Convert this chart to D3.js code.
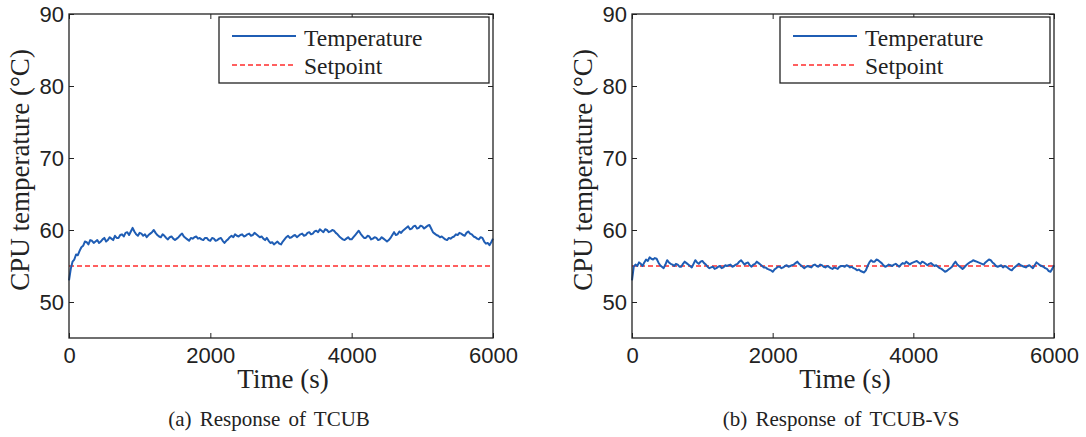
<!DOCTYPE html>
<html>
<head>
<meta charset="utf-8">
<script src="https://cdn.jsdelivr.net/npm/d3@7"></script>
<style>
  html, body { margin: 0; padding: 0; background: #fff; }
  svg { display: block; }
  .serif { font-family: "Liberation Serif", "DejaVu Serif", "Noto Serif", "Times New Roman", Times, serif; }
  .sans { font-family: "Liberation Sans", Arial, Helvetica, sans-serif; }
</style>
</head>
<body>
<svg id="chart" width="1086" height="437"></svg>
<script>
// ---- data ----
const timeStep = 25;            // sampling interval (s)
const times = d3.range(0, 6001, timeStep);

const tcubTemp = [
  53.0, 54.6, 55.6, 55.9, 56.6, 56.5, 57.1, 57.6, 57.8, 58.4, 58.3, 58.0, 58.6, 58.5, 58.2, 58.4, 58.6, 58.2, 58.4, 58.7,
  58.9, 58.4, 58.6, 59.0, 58.8, 58.6, 59.2, 58.9, 58.9, 59.3, 59.4, 59.1, 59.6, 59.7, 59.3, 59.8, 60.3, 59.8, 59.4, 59.2,
  59.6, 59.5, 59.2, 59.4, 59.0, 59.3, 59.5, 59.7, 60.0, 59.6, 59.3, 59.1, 59.0, 59.4, 59.2, 58.9, 58.7, 59.0, 59.1, 58.8,
  58.6, 58.8, 59.0, 59.3, 59.5, 59.1, 58.9, 58.7, 58.5, 58.9, 58.8, 59.0, 59.1, 58.8, 58.9, 58.7, 58.6, 58.9, 58.9, 58.6,
  58.5, 58.9, 58.8, 58.5, 58.6, 58.8, 58.9, 58.5, 58.2, 58.5, 58.7, 59.0, 59.2, 59.0, 59.4, 59.2, 59.1, 59.3, 59.4, 59.1,
  59.2, 59.4, 59.5, 59.2, 59.3, 59.6, 59.4, 59.2, 59.0, 59.1, 58.8, 58.6, 58.9, 58.5, 58.2, 58.3, 58.0, 58.2, 58.4, 58.1,
  58.0, 58.4, 58.7, 59.0, 59.2, 58.9, 59.0, 59.2, 59.3, 59.0, 59.2, 59.4, 59.5, 59.2, 59.3, 59.6, 59.7, 59.4, 59.5, 59.8,
  59.9, 59.7, 60.1, 59.9, 59.7, 60.1, 60.0, 59.7, 59.8, 60.0, 59.9, 59.6, 59.4, 59.1, 58.9, 58.7, 58.6, 58.8, 59.0, 58.7,
  58.7, 59.0, 59.3, 59.6, 59.9, 59.5, 59.2, 58.9, 58.9, 59.2, 59.1, 58.7, 58.8, 59.0, 58.9, 58.6, 58.7, 59.0, 58.8, 58.6,
  58.4, 58.6, 58.9, 59.3, 59.7, 59.3, 59.4, 59.8, 59.6, 59.9, 60.1, 60.3, 60.5, 60.1, 60.2, 60.5, 60.6, 60.2, 60.3, 60.6,
  60.5, 60.2, 60.4, 60.6, 60.7, 60.2, 59.7, 59.5, 59.3, 59.2, 59.0, 59.1, 58.9, 58.7, 58.6, 58.9, 58.8, 59.0, 59.1, 59.4,
  59.3, 59.6, 59.5, 59.3, 59.2, 59.6, 59.8, 59.5, 59.4, 59.1, 59.0, 58.8, 58.7, 59.0, 58.9, 58.4, 58.1, 58.2, 57.9, 58.3,
  58.8
];

const tcubVsTemp = [
  53.0, 54.9, 55.2, 55.0, 55.5, 55.3, 55.0, 55.5, 55.9, 55.7, 56.2, 56.0, 55.9, 56.1, 56.0, 55.5, 55.1, 54.9, 54.7, 55.2,
  55.8, 55.5, 55.3, 55.2, 55.0, 55.3, 55.2, 54.9, 54.9, 55.3, 55.6, 55.4, 55.2, 55.0, 54.8, 55.3, 55.8, 55.5, 55.3, 55.6,
  55.7, 55.4, 55.2, 54.9, 54.7, 54.8, 54.9, 54.6, 54.7, 54.9, 55.0, 54.7, 54.8, 55.1, 55.0, 55.1, 55.2, 54.9, 55.0, 55.2,
  55.3, 55.6, 55.8, 55.5, 55.2, 55.4, 55.5, 55.1, 54.9, 55.2, 55.3, 55.6, 55.4, 55.2, 55.0, 54.8, 54.8, 54.6, 54.5, 54.4,
  54.2, 54.5, 54.7, 54.9, 54.9, 54.7, 54.8, 55.0, 55.1, 54.9, 55.0, 55.1, 55.2, 55.4, 55.6, 55.3, 55.1, 54.9, 54.7, 54.9,
  55.0, 54.9, 54.8, 55.1, 55.2, 55.0, 54.9, 55.2, 55.1, 54.9, 54.8, 55.0, 54.9, 54.7, 54.6, 54.8, 54.7, 54.6, 54.9, 55.0,
  55.0, 54.9, 55.1, 55.0, 54.8, 54.9, 54.7, 54.6, 54.4, 54.5, 54.3, 54.2, 54.1, 54.4, 55.0, 55.5, 55.8, 55.6, 55.6, 55.9,
  55.8, 55.6, 55.4, 55.1, 54.9, 55.0, 55.2, 55.1, 55.0, 55.2, 55.3, 55.1, 54.9, 55.2, 55.4, 55.3, 55.6, 55.4, 55.2, 55.4,
  55.5, 55.6, 55.7, 55.5, 55.3, 55.6, 55.5, 55.3, 55.1, 55.3, 55.4, 55.2, 55.0, 55.1, 54.9, 54.7, 54.6, 54.4, 54.2, 54.3,
  54.5, 54.7, 54.9, 55.3, 55.6, 55.2, 55.0, 54.8, 54.6, 54.8, 55.1, 55.3, 55.5, 55.6, 55.8, 55.7, 55.6, 55.5, 55.4, 55.3,
  55.2, 55.5, 55.7, 55.9, 55.8, 55.5, 55.3, 55.0, 54.9, 55.0, 55.1, 54.8, 55.0, 54.9, 54.7, 54.5, 54.4, 54.7, 54.9, 55.1,
  55.3, 55.1, 55.0, 54.9, 54.8, 55.0, 55.1, 54.9, 54.7, 55.1, 55.5, 55.3, 55.1, 55.0, 54.9, 54.7, 54.6, 54.3, 54.2, 54.6,
  55.1
];

const setpoint = 55;
const xTicks = [0, 2000, 4000, 6000];
const yTicks = [50, 60, 70, 80, 90];
const legendLabels = ["Temperature", "Setpoint"];
const captions = ["(a) Response of TCUB", "(b) Response of TCUB-VS"];
const xLabel = "Time (s)";
const yLabel = "CPU temperature (°C)";

// ---- drawing ----
const svg = d3.select("#chart");
const BLUE = "#1f5db4";
const RED = "#ff2d2d";
const INK = "#222";

const panels = [
  { left: 69, right: 493, data: tcubTemp, caption: captions[0], capX: 269 },
  { left: 632, right: 1054, data: tcubVsTemp, caption: captions[1], capX: 841 }
];
const plotTop = 14, plotBottom = 338;

panels.forEach(p => {
  const x = d3.scaleLinear().domain([0, 6000]).range([p.left, p.right]);
  const y = d3.scaleLinear().domain([45, 90]).range([plotBottom, plotTop]);
  const g = svg.append("g");

  const styleAxis = sel => {
    sel.select(".domain").remove();
    sel.selectAll(".tick line").attr("stroke", INK).attr("stroke-width", 1);
    sel.selectAll(".tick text")
      .attr("fill", INK)
      .attr("class", "sans")
      .style("font-size", "22px");
  };

  // left axis
  g.append("g").attr("transform", `translate(${p.left},0)`)
    .call(d3.axisLeft(y).tickValues(yTicks).tickFormat(d3.format("d")).tickSizeInner(-5).tickSizeOuter(0).tickPadding(5))
    .attr("font-family", null)
    .call(styleAxis)
    .selectAll(".tick text").attr("dy", "0.36em");
  // right mirror
  g.append("g").attr("transform", `translate(${p.right},0)`)
    .call(d3.axisRight(y).tickValues(yTicks).tickSizeInner(-5).tickSizeOuter(0).tickFormat(""))
    .call(styleAxis);
  // bottom axis
  g.append("g").attr("transform", `translate(0,${plotBottom})`)
    .call(d3.axisBottom(x).tickValues(xTicks).tickFormat(d3.format("d")).tickSizeInner(-5).tickSizeOuter(0).tickPadding(9))
    .attr("font-family", null)
    .call(styleAxis);
  // top mirror
  g.append("g").attr("transform", `translate(0,${plotTop})`)
    .call(d3.axisTop(x).tickValues(xTicks).tickSizeInner(-5).tickSizeOuter(0).tickFormat(""))
    .call(styleAxis);

  // setpoint line
  g.append("line")
    .attr("x1", x(0)).attr("x2", x(6000))
    .attr("y1", y(setpoint)).attr("y2", y(setpoint))
    .attr("stroke", RED).attr("stroke-width", 1.3).attr("stroke-dasharray", "5,3");

  // temperature line
  const line = d3.line().x((d, i) => x(times[i])).y(d => y(d));
  g.append("path").datum(p.data)
    .attr("d", line)
    .attr("fill", "none").attr("stroke", BLUE).attr("stroke-width", 2)
    .attr("stroke-linejoin", "round");

  // frame
  g.append("rect")
    .attr("x", p.left).attr("y", plotTop)
    .attr("width", p.right - p.left).attr("height", plotBottom - plotTop)
    .attr("fill", "none").attr("stroke", INK).attr("stroke-width", 1.3);

  // legend
  const lx = p.right - 274, ly = 17, lw = 270, lh = 66;
  const lg = g.append("g");
  lg.append("rect").attr("x", lx).attr("y", ly).attr("width", lw).attr("height", lh)
    .attr("fill", "#fff").attr("stroke", INK).attr("stroke-width", 1.3);
  lg.append("line").attr("x1", lx + 13).attr("x2", lx + 77).attr("y1", 36).attr("y2", 36)
    .attr("stroke", BLUE).attr("stroke-width", 2);
  lg.append("line").attr("x1", lx + 13).attr("x2", lx + 77).attr("y1", 65).attr("y2", 65)
    .attr("stroke", RED).attr("stroke-width", 1.3).attr("stroke-dasharray", "5,3");
  legendLabels.forEach((t, i) => {
    lg.append("text").attr("class", "serif")
      .attr("x", lx + 85).attr("y", i === 0 ? 45.5 : 74)
      .attr("fill", INK)
      .style("font-size", "23.5px")
      .text(t);
  });

  // axis labels
  g.append("text").attr("class", "serif")
    .attr("transform", `translate(${p.left - 40},${(plotTop + plotBottom) / 2 - 6}) rotate(-90)`)
    .attr("text-anchor", "middle").attr("fill", INK)
    .style("font-size", "27px")
    .text(yLabel);
  g.append("text").attr("class", "serif")
    .attr("x", (p.left + p.right) / 2 + 2).attr("y", 388)
    .attr("text-anchor", "middle").attr("fill", INK)
    .style("font-size", "27px")
    .text(xLabel);

  // caption
  g.append("text").attr("class", "serif")
    .attr("x", p.capX).attr("y", 426)
    .attr("text-anchor", "middle").attr("fill", INK)
    .style("font-size", "21px")
    .style("word-spacing", "3px")
    .text(p.caption);
});
</script>
</body>
</html>
